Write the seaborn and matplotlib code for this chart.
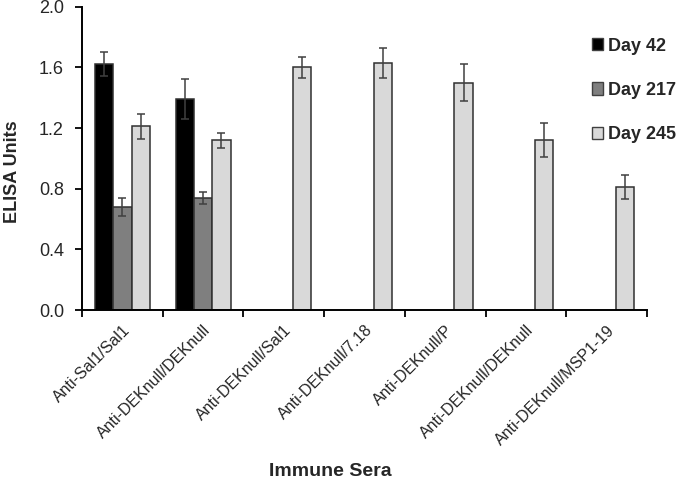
import numpy as np
import pandas as pd
import matplotlib
matplotlib.use("Agg")
import matplotlib.pyplot as plt
import seaborn as sns

# chart data
sera = ["Anti-Sal1/Sal1", "Anti-DEKnull/DEKnull", "Anti-DEKnull/Sal1",
        "Anti-DEKnull/7.18", "Anti-DEKnull/P", "Anti-DEKnull/DEKnull",
        "Anti-DEKnull/MSP1-19"]
days = ["Day 42", "Day 217", "Day 245"]
day42 = [1.62, 1.39, np.nan, np.nan, np.nan, np.nan, np.nan]
day217 = [0.68, 0.74, np.nan, np.nan, np.nan, np.nan, np.nan]
day245 = [1.21, 1.12, 1.60, 1.63, 1.50, 1.12, 0.81]
err42 = [0.08, 0.13, np.nan, np.nan, np.nan, np.nan, np.nan]
err217 = [0.06, 0.04, np.nan, np.nan, np.nan, np.nan, np.nan]
err245 = [0.085, 0.05, 0.07, 0.10, 0.12, 0.11, 0.08]
yticks = [0.0, 0.4, 0.8, 1.2, 1.6, 2.0]

colors = ["#000000", "#7f7f7f", "#d9d9d9"]

# long table; category key is the position index because two labels repeat
rows = []
for vals, errs, day in [(day42, err42, days[0]), (day217, err217, days[1]), (day245, err245, days[2])]:
    for i, (v, e) in enumerate(zip(vals, errs)):
        if not np.isnan(v):
            rows.append({"sera": i, "elisa": v, "err": e, "day": day})
df = pd.DataFrame(rows)

sns.set_style("ticks")
plt.rcParams["font.family"] = ["Liberation Sans", "DejaVu Sans"]

fig = plt.figure(figsize=(6.8, 4.84), dpi=100)
ax = fig.add_axes([0.1206, 0.3595, 0.8309, 0.6267])

sns.barplot(data=df, x="sera", y="elisa", hue="day", order=list(range(len(sera))),
            hue_order=days, palette=colors, saturation=1, width=0.68,
            edgecolor="#303030", linewidth=1.1, errorbar=None, ax=ax)

# error bars placed on the bars seaborn drew
err_lookup = {(r.day, r.sera): r.err for r in df.itertuples()}
for day, cont in zip(days, ax.containers):
    for bar in cont:
        h = bar.get_height()
        if np.isnan(h):
            continue
        cx = bar.get_x() + bar.get_width() / 2
        cat = int(round(cx))
        e = err_lookup.get((day, cat), np.nan)
        if np.isnan(e):
            continue
        ax.errorbar(cx, h, yerr=e, fmt="none", ecolor="#404040",
                    elinewidth=1.1, capsize=3, capthick=1.1, zorder=5)

ax.set_xlim(-0.5, len(sera) - 0.5)
ax.set_ylim(0, 2.0)
ax.set_yticks(yticks)
ax.set_yticklabels([f"{t:.1f}" for t in yticks], fontsize=13)

ax.set_xticks(range(len(sera)))
ax.set_xticklabels(sera, rotation=45, ha="right", rotation_mode="anchor", fontsize=11.5)
ax.set_xticks(np.arange(-0.5, len(sera), 1.0), minor=True)
ax.tick_params(axis="x", which="major", length=0, pad=9)
ax.tick_params(axis="x", which="minor", length=5, width=1.3, direction="out", color="black")
ax.tick_params(axis="y", length=5, width=1.3, direction="out", color="black", pad=8)

for side in ["top", "right"]:
    ax.spines[side].set_visible(False)
for side in ["left", "bottom"]:
    ax.spines[side].set_linewidth(1.4)
    ax.spines[side].set_color("black")

ax.set_ylabel("ELISA Units", fontsize=13, fontweight="bold")
ax.yaxis.set_label_coords(-0.108, 0.455)
ax.set_xlabel("Immune Sera", fontsize=14, fontweight="bold")
ax.xaxis.set_label_coords(0.44, -0.505)

old = ax.get_legend()
handles = old.legend_handles
labels = [t.get_text() for t in old.texts]
old.remove()
for h in handles:
    h.set_edgecolor("#404040")
    h.set_linewidth(1.0)
leg = ax.legend(handles, labels, loc="upper left", bbox_to_anchor=(0.870, 0.922),
                bbox_transform=fig.transFigure, frameon=False, borderpad=0,
                borderaxespad=0, handlelength=0.65, handleheight=0.65,
                handletextpad=0.25, labelspacing=1.5,
                prop={"size": 13, "weight": "bold"})

fig.savefig("out.png", dpi=100)
